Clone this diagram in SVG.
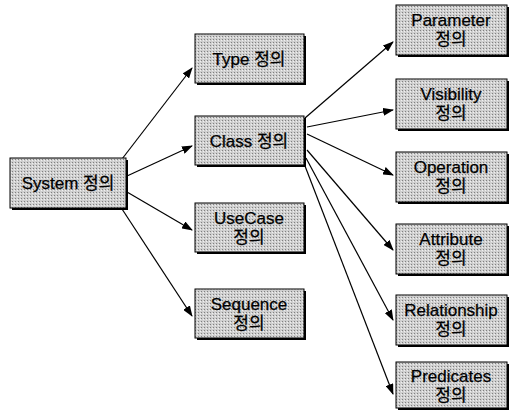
<svg xmlns="http://www.w3.org/2000/svg" width="512" height="411" viewBox="0 0 512 411">
<defs>
<marker id="ah" markerUnits="userSpaceOnUse" markerWidth="11" markerHeight="8" refX="10" refY="4" orient="auto">
<path d="M0,0 L11,4 L0,8 z" fill="#000"/>
</marker>
<pattern id="dots" width="3" height="3" patternUnits="userSpaceOnUse">
<rect width="3" height="3" fill="#cfcfcf"/>
<rect x="0" y="0" width="1" height="1" fill="#808080"/>
<rect x="2" y="1" width="1" height="1" fill="#f0f0f0"/>
</pattern>
</defs>
<style>
.sh{fill:#000}
.bx{fill:url(#dots);stroke:#000;stroke-width:1}
.t{font-family:"Liberation Sans","Noto Sans CJK KR",sans-serif;font-size:17px;fill:#000;stroke:#000;stroke-width:0.25;text-anchor:middle}
.c line{stroke:#000;stroke-width:1.2;marker-end:url(#ah)}
</style>
<rect width="512" height="411" fill="#fff"/>
<g class="c" id="connectors">
<line x1="122" y1="159" x2="192" y2="68"/>
<line x1="127" y1="176" x2="192" y2="146"/>
<line x1="127" y1="192" x2="192" y2="230"/>
<line x1="122" y1="209" x2="192" y2="316"/>
<line x1="305" y1="118" x2="393" y2="42"/>
<line x1="307" y1="127" x2="393" y2="110"/>
<line x1="307" y1="134" x2="393" y2="175"/>
<line x1="307" y1="150" x2="393" y2="250"/>
<line x1="306" y1="158" x2="393" y2="320"/>
<line x1="305" y1="166" x2="393" y2="394"/>
</g>
<g id="system">
<rect class="sh" x="12" y="160" width="116" height="50"/>
<rect class="bx" x="10" y="158" width="116" height="50"/>
<text class="t" x="68" y="189">System 정의</text>
</g>
<g id="type">
<rect class="sh" x="197" y="36" width="109" height="49"/>
<rect class="bx" x="195" y="34" width="109" height="49"/>
<text class="t" x="249" y="65">Type 정의</text>
</g>
<g id="class">
<rect class="sh" x="197" y="118" width="109" height="49"/>
<rect class="bx" x="195" y="116" width="109" height="49"/>
<text class="t" x="249" y="147">Class 정의</text>
</g>
<g id="usecase">
<rect class="sh" x="197" y="205" width="109" height="49"/>
<rect class="bx" x="195" y="203" width="109" height="49"/>
<text class="t" x="249" y="224">UseCase</text>
<text class="t" x="249" y="243">정의</text>
</g>
<g id="sequence">
<rect class="sh" x="197" y="291" width="109" height="49"/>
<rect class="bx" x="195" y="289" width="109" height="49"/>
<text class="t" x="249" y="310">Sequence</text>
<text class="t" x="249" y="329">정의</text>
</g>
<g id="parameter">
<rect class="sh" x="398" y="7" width="111" height="50"/>
<rect class="bx" x="396" y="5" width="111" height="50"/>
<text class="t" x="451" y="26">Parameter</text>
<text class="t" x="451" y="45">정의</text>
</g>
<g id="visibility">
<rect class="sh" x="398" y="81" width="111" height="50"/>
<rect class="bx" x="396" y="79" width="111" height="50"/>
<text class="t" x="451" y="100">Visibility</text>
<text class="t" x="451" y="119">정의</text>
</g>
<g id="operation">
<rect class="sh" x="398" y="154" width="111" height="50"/>
<rect class="bx" x="396" y="152" width="111" height="50"/>
<text class="t" x="451" y="173">Operation</text>
<text class="t" x="451" y="192">정의</text>
</g>
<g id="attribute">
<rect class="sh" x="398" y="226" width="111" height="50"/>
<rect class="bx" x="396" y="224" width="111" height="50"/>
<text class="t" x="451" y="245">Attribute</text>
<text class="t" x="451" y="264">정의</text>
</g>
<g id="relationship">
<rect class="sh" x="398" y="297" width="111" height="50"/>
<rect class="bx" x="396" y="295" width="111" height="50"/>
<text class="t" x="451" y="316">Relationship</text>
<text class="t" x="451" y="335">정의</text>
</g>
<g id="predicates">
<rect class="sh" x="398" y="364" width="111" height="46"/>
<rect class="bx" x="396" y="362" width="111" height="46"/>
<text class="t" x="451" y="382">Predicates</text>
<text class="t" x="451" y="401">정의</text>
</g>
</svg>
